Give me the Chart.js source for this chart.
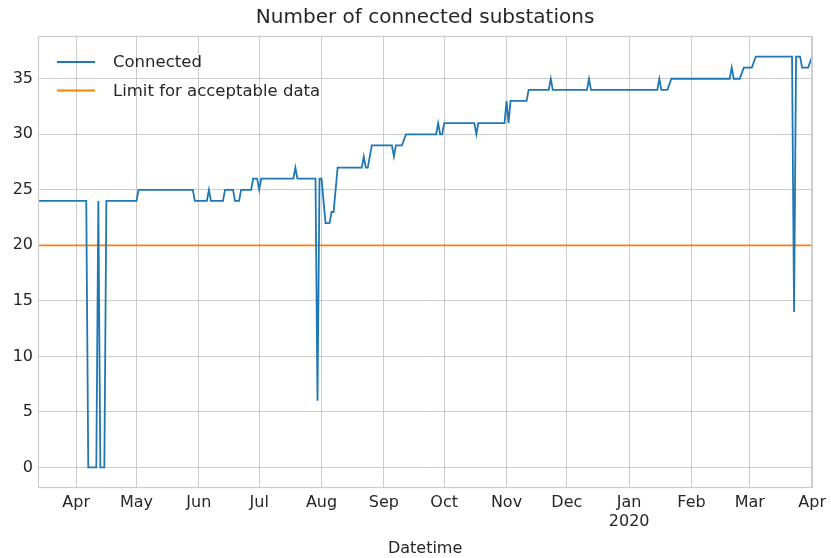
<!DOCTYPE html>
<html>
<head>
<meta charset="utf-8">
<script src="https://cdn.jsdelivr.net/npm/chart.js@4.4.1/dist/chart.umd.min.js"></script>
<style>
  html, body { margin: 0; padding: 0; background: #ffffff; }
  canvas { display: block; }
</style>
</head>
<body>
<canvas id="chart" width="831" height="558"></canvas>
<script>
// Daily readings where the count of connected substations changes
const dates = [
  '2019-03-13', '2019-04-06', '2019-04-07', '2019-04-11', '2019-04-12', '2019-04-13',
  '2019-04-15', '2019-04-16', '2019-05-01', '2019-05-02', '2019-05-29', '2019-05-30',
  '2019-06-05', '2019-06-06', '2019-06-07', '2019-06-13', '2019-06-14', '2019-06-18',
  '2019-06-19', '2019-06-21', '2019-06-22', '2019-06-27', '2019-06-28', '2019-06-30',
  '2019-07-01', '2019-07-02', '2019-07-18', '2019-07-19', '2019-07-20', '2019-07-29',
  '2019-07-30', '2019-07-31', '2019-08-01', '2019-08-03', '2019-08-05', '2019-08-06',
  '2019-08-07', '2019-08-09', '2019-08-21', '2019-08-22', '2019-08-23', '2019-08-24',
  '2019-08-26', '2019-09-05', '2019-09-06', '2019-09-07', '2019-09-10', '2019-09-12',
  '2019-09-27', '2019-09-28', '2019-09-29', '2019-09-30', '2019-10-01', '2019-10-16',
  '2019-10-17', '2019-10-18', '2019-10-31', '2019-11-01', '2019-11-02', '2019-11-03',
  '2019-11-11', '2019-11-12', '2019-11-22', '2019-11-23', '2019-11-24', '2019-12-11',
  '2019-12-12', '2019-12-13', '2020-01-15', '2020-01-16', '2020-01-17', '2020-01-20',
  '2020-01-22', '2020-02-20', '2020-02-21', '2020-02-22', '2020-02-25', '2020-02-27',
  '2020-03-02', '2020-03-04', '2020-03-22', '2020-03-23', '2020-03-24', '2020-03-26',
  '2020-03-27', '2020-03-30', '2020-04-01'
];
const connected = [
  24, 24, 0, 0, 24, 0,
  0, 24, 24, 25, 25, 24,
  24, 25, 24, 24, 25, 25,
  24, 24, 25, 25, 26, 26,
  25, 26, 26, 27, 26, 26,
  6, 26, 26, 22, 22, 23,
  23, 27, 27, 28, 27, 27,
  29, 29, 28, 29, 29, 30,
  30, 31, 30, 30, 31, 31,
  30, 31, 31, 33, 31, 33,
  33, 34, 34, 35, 34, 34,
  35, 34, 34, 35, 34, 34,
  35, 35, 36, 35, 35, 36,
  36, 37, 37, 14, 37, 37,
  36, 36, 37
];
const limitValue = 20;

// Axis ticks
const monthTicks = [
  '2019-04-01', '2019-05-01', '2019-06-01', '2019-07-01', '2019-08-01', '2019-09-01',
  '2019-10-01', '2019-11-01', '2019-12-01', '2020-01-01', '2020-02-01', '2020-03-01',
  '2020-04-01'
];
const monthLabels = [
  'Apr', 'May', 'Jun', 'Jul', 'Aug', 'Sep', 'Oct', 'Nov', 'Dec',
  ['Jan', '2020'], 'Feb', 'Mar', 'Apr'
];
const yTicks = [0, 5, 10, 15, 20, 25, 30, 35];

const toTime = d => Date.parse(d);
const connectedPoints = dates.map((d, i) => ({ x: toTime(d), y: connected[i] }));
const limitPoints = [
  { x: toTime(dates[0]), y: limitValue },
  { x: toTime(dates[dates.length - 1]), y: limitValue }
];

const FONT = '"DejaVu Sans", "Liberation Sans", Arial, sans-serif';
const TEXT = '#262626';
const GRID = '#cccccc';

// Light frame around the plotting area
const framePlugin = {
  id: 'frame',
  afterDatasetsDraw(chart) {
    const { ctx, chartArea: a } = chart;
    ctx.save();
    ctx.strokeStyle = GRID;
    ctx.lineWidth = 1.2;
    ctx.strokeRect(a.left + 0.5, a.top + 0.5, a.right - a.left - 1, a.bottom - a.top - 1);
    ctx.restore();
  }
};

// Legend in the upper-left corner of the plotting area
const cornerLegend = {
  id: 'cornerLegend',
  afterDraw(chart) {
    const { ctx, chartArea: a } = chart;
    ctx.save();
    ctx.font = '16.5px ' + FONT;
    ctx.textBaseline = 'middle';
    ctx.textAlign = 'left';
    chart.data.datasets.forEach((ds, i) => {
      const y = a.top + 26 + i * 28.5;
      ctx.strokeStyle = ds.borderColor;
      ctx.lineWidth = ds.borderWidth;
      ctx.beginPath();
      ctx.moveTo(a.left + 19, y);
      ctx.lineTo(a.left + 57, y);
      ctx.stroke();
      ctx.fillStyle = TEXT;
      ctx.fillText(ds.label, a.left + 75, y + 1);
    });
    ctx.restore();
  }
};

new Chart(document.getElementById('chart'), {
  type: 'line',
  data: {
    datasets: [
      {
        label: 'Connected',
        data: connectedPoints,
        borderColor: '#1f77b4',
        borderWidth: 1.8,
        pointRadius: 0,
        tension: 0,
        fill: false
      },
      {
        label: 'Limit for acceptable data',
        data: limitPoints,
        borderColor: '#ff7f0e',
        borderWidth: 1.8,
        pointRadius: 0,
        tension: 0,
        fill: false
      }
    ]
  },
  options: {
    responsive: false,
    animation: false,
    devicePixelRatio: 1,
    layout: { padding: { left: 0, right: 16, top: 0, bottom: 0 } },
    plugins: {
      legend: { display: false },
      tooltip: { enabled: false },
      title: {
        display: true,
        fullSize: false,
        text: 'Number of connected substations',
        color: TEXT,
        font: { family: FONT, size: 20, weight: 'normal', lineHeight: 1.2 },
        padding: { top: 6, bottom: 6 }
      }
    },
    scales: {
      x: {
        type: 'linear',
        min: toTime(dates[0]),
        max: toTime(dates[dates.length - 1]),
        afterBuildTicks(scale) {
          scale.ticks = monthTicks.map(d => ({ value: toTime(d) }));
        },
        afterFit(scale) { scale.height = 70; },
        grid: { color: GRID, lineWidth: 1, drawTicks: false },
        border: { display: false },
        ticks: {
          autoSkip: false,
          maxRotation: 0,
          padding: 5,
          color: TEXT,
          font: { family: FONT, size: 16, lineHeight: 1.2 },
          callback: (value, index) => monthLabels[index]
        },
        title: {
          display: true,
          text: 'Datetime',
          color: TEXT,
          font: { family: FONT, size: 16, lineHeight: 1.2 },
          padding: { top: 0, bottom: 0 }
        }
      },
      y: {
        type: 'linear',
        min: -1.85,
        max: 38.85,
        afterBuildTicks(scale) {
          scale.ticks = yTicks.map(v => ({ value: v }));
        },
        afterFit(scale) { scale.width = 38; },
        grid: { color: GRID, lineWidth: 1, drawTicks: false },
        border: { display: false },
        ticks: {
          padding: 5,
          color: TEXT,
          font: { family: FONT, size: 16 }
        }
      }
    }
  },
  plugins: [framePlugin, cornerLegend]
});
</script>
</body>
</html>
